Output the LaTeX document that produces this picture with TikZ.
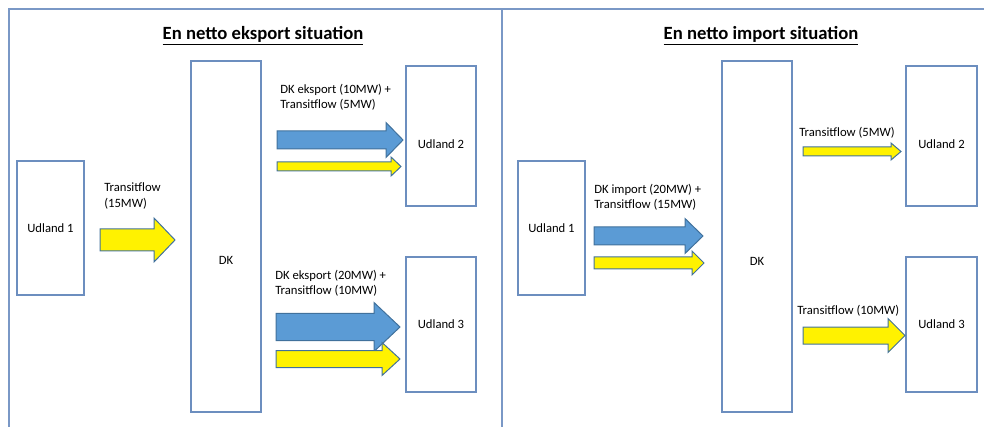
\documentclass[tikz,border=0pt]{standalone}
\usepackage{fontspec}
\setmainfont{Carlito}
\usetikzlibrary{calc}

\definecolor{frameblue}{RGB}{122,152,198}
\definecolor{boxblue}{RGB}{108,142,191}
\definecolor{flowblue}{RGB}{91,155,213}
\definecolor{edgeblue}{RGB}{65,113,156}
\newcommand{\px}{0.75pt}
% block arrow: style, start x, tip x, mid y, half shaft, half head, head length
\newcommand{\flowarrow}[7]{%
  \draw[#1] (#2,#4-#5) -- (#3-#7,#4-#5) -- (#3-#7,#4-#6) -- (#3,#4)
    -- (#3-#7,#4+#6) -- (#3-#7,#4+#5) -- (#2,#4+#5) -- cycle;}

\tikzset{
  land/.style={draw=boxblue, line width=1pt, inner sep=0pt,
    font=\fontsize{9.5}{11.6}\selectfont},
  boxtext/.style={inner sep=0pt, font=\fontsize{9.5}{11.6}\selectfont},
  flowtext/.style={anchor=west, inner sep=0pt, align=left,
    font=\fontsize{9.5}{11.6}\selectfont},
  headline/.style={anchor=base, inner sep=0pt,
    font=\fontsize{14}{17}\selectfont\bfseries},
  yellowflow/.style={fill=yellow, draw=edgeblue, line width=0.75pt},
  blueflow/.style={fill=flowblue, draw=edgeblue, line width=0.75pt}
}

\begin{document}
\begin{tikzpicture}[x=\px, y=-\px]
  \useasboundingbox (0,0) rectangle (984,427);
  \draw[frameblue, line width=1.2pt]
    (9,427) -- (9,9) -- (984,9);
  \draw[frameblue, line width=1.2pt]
    (502,9) -- (502,427);

  \node[headline] (titlea) at (263,39.5) {\underline{En netto eksport situation}};
  \node[headline] (titleb) at (761,39.5) {\underline{En netto import situation}};

  \node[land, minimum width=67*\px, minimum height=134*\px] (u1a) at (50.5,228) {Udland 1};
  \node[land, minimum width=70*\px, minimum height=351*\px] (dka) at (226,236.5) {};
  \node[land, minimum width=70*\px, minimum height=140*\px] (u2a) at (441,136) {};
  \node[land, minimum width=70*\px, minimum height=135*\px] (u3a) at (441,324.5) {Udland 3};
  \node[boxtext] (dkatext) at ($(dka.center)+(0,24)$) {DK};
  \node[boxtext] (u2atext) at ($(u2a.center)+(0,8)$) {Udland 2};

  \node[land, minimum width=67*\px, minimum height=134*\px] (u1b) at (551.5,228) {Udland 1};
  \node[land, minimum width=70*\px, minimum height=351*\px] (dkb) at (757,236.5) {};
  \node[land, minimum width=71*\px, minimum height=140*\px] (u2b) at (941.5,136) {};
  \node[land, minimum width=71*\px, minimum height=135*\px] (u3b) at (941.5,324.5) {Udland 3};
  \node[boxtext] (dkbtext) at ($(dkb.center)+(0,24.5)$) {DK};
  \node[boxtext] (u2btext) at ($(u2b.center)+(0,8)$) {Udland 2};

  \flowarrow{yellowflow}{100}{175}{240}{11}{22}{21}
  \flowarrow{blueflow}{277}{403}{140}{9}{17.5}{17}
  \flowarrow{yellowflow}{277}{401}{166.5}{4.5}{9.5}{10}
  \flowarrow{blueflow}{276}{400}{327}{13.5}{24.5}{26}
  \flowarrow{yellowflow}{276}{400}{359}{8.5}{16.5}{18}

  \flowarrow{blueflow}{594}{703}{236}{9}{17.5}{18}
  \flowarrow{yellowflow}{594}{704}{263}{6}{12}{12}
  \flowarrow{yellowflow}{803}{901}{151.5}{4.5}{8.5}{10}
  \flowarrow{yellowflow}{803}{905}{335.5}{8.5}{17}{17}

  \node[flowtext] (transa) at (104,196) {Transitflow\\(15MW)};
  \node[flowtext] (exporta) at (280,97) {DK eksport (10MW) +\\Transitflow (5MW)};
  \node[flowtext] (exportb) at (275,283.5) {DK eksport (20MW) +\\Transitflow (10MW)};
  \node[flowtext] (importa) at (594,197.5) {DK import (20MW) +\\Transitflow (15MW)};
  \node[flowtext] (transb) at (799,133) {Transitflow (5MW)};
  \node[flowtext] (transc) at (797,311) {Transitflow (10MW)};
\end{tikzpicture}
\end{document}
